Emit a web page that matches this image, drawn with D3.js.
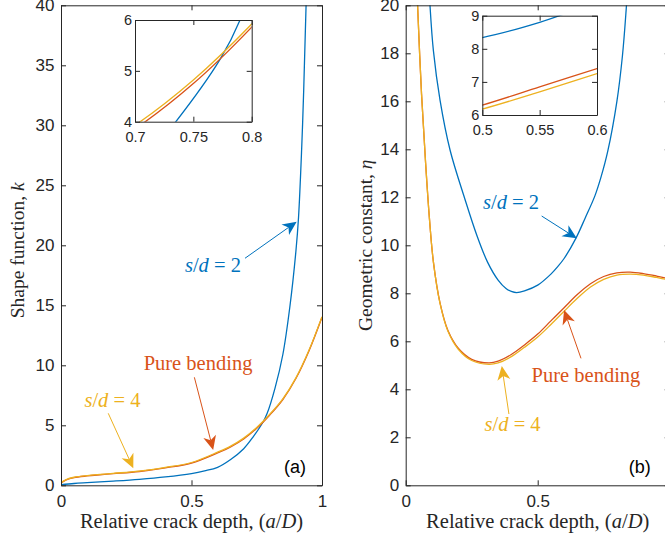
<!DOCTYPE html>
<html>
<head>
<meta charset="utf-8">
<script src="https://cdn.jsdelivr.net/npm/d3@7"></script>
<style>
  body { margin: 0; background: #fff; }
  svg { display: block; }
</style>
</head>
<body>
<svg id="chart" width="665" height="542"></svg>
<script>
// ---- Panel (a): shape function k versus relative crack depth a/D ----
const depthK2 = [0, 0.05, 0.1, 0.2, 0.3, 0.4, 0.5, 0.55, 0.6, 0.65, 0.7, 0.735, 0.773, 0.79, 0.82, 0.85, 0.877, 0.9, 0.91, 0.922, 0.93, 0.939, 0.95];
const kS2     = [0.05, 0.15, 0.22, 0.35, 0.5, 0.7, 0.98, 1.2, 1.5, 2.15, 3.05, 4.0, 5.23, 6.0, 8.1, 10.9, 14.9, 19.5, 22.3, 28, 33, 40, 50];

const depthKPB = [0, 0.02, 0.05, 0.1, 0.15, 0.2, 0.3, 0.4, 0.5, 0.6, 0.65, 0.7, 0.75, 0.8, 0.85, 0.9, 0.95, 1];
const kPB      = [0.2, 0.45, 0.64, 0.78, 0.88, 0.97, 1.15, 1.45, 1.85, 2.7, 3.2, 3.86, 4.75, 5.86, 7.15, 8.9, 11.2, 14.0];
const kS4      = [0.22, 0.48, 0.67, 0.81, 0.91, 1.0, 1.18, 1.49, 1.9, 2.76, 3.26, 3.93, 4.82, 5.92, 7.2, 8.95, 11.25, 14.05];

// ---- Panel (b): geometric constant eta versus relative crack depth a/D ----
const depthEta2 = [0.085, 0.092, 0.105, 0.13, 0.168, 0.225, 0.27, 0.31, 0.35, 0.38, 0.4, 0.42, 0.45, 0.5, 0.55, 0.575, 0.6, 0.645, 0.68, 0.717, 0.74, 0.765, 0.8, 0.821, 0.835, 0.845];
const etaS2     = [21.6, 20, 18.1, 16.05, 13.97, 11.9, 10.4, 9.3, 8.55, 8.2, 8.08, 8.03, 8.1, 8.34, 8.8, 9.1, 9.45, 10.3, 11.14, 12.07, 12.85, 13.9, 16.0, 17.9, 19.8, 21.5];

const depthEtaPB = [0.04, 0.045, 0.06, 0.075, 0.09, 0.105, 0.13, 0.16, 0.2, 0.25, 0.315, 0.35, 0.4, 0.45, 0.5, 0.55, 0.6, 0.65, 0.7, 0.75, 0.8, 0.85, 0.9, 0.95, 1];
const etaPB      = [21.5, 20, 16.3, 13.5, 11.1, 9.3, 7.6, 6.45, 5.7, 5.25, 5.1, 5.17, 5.45, 5.85, 6.3, 6.85, 7.4, 7.95, 8.4, 8.7, 8.85, 8.88, 8.82, 8.72, 8.6];
const etaS4      = [21.5, 20, 16.3, 13.5, 11.1, 9.3, 7.58, 6.42, 5.66, 5.2, 5.04, 5.1, 5.36, 5.75, 6.18, 6.7, 7.25, 7.79, 8.26, 8.58, 8.76, 8.8, 8.76, 8.66, 8.55];

// ---- Ticks ----
const depthTicks   = [0, 0.5, 1];
const kTicks       = [0, 5, 10, 15, 20, 25, 30, 35, 40];
const etaTicks     = [0, 2, 4, 6, 8, 10, 12, 14, 16, 18, 20];
const insetKX      = [0.7, 0.75, 0.8];
const insetKY      = [4, 5, 6];
const insetEtaX    = [0.5, 0.55, 0.6];
const insetEtaY    = [6, 7, 8, 9];

const COLORS = { s2: '#0072BD', pb: '#D95319', s4: '#EDB120' };
const AXIS = '#262626';
const SANS = '"Liberation Sans", Arial, Helvetica, sans-serif';
const SERIF = '"Liberation Serif", "Times New Roman", serif';

const svg = d3.select('#chart');
const defs = svg.append('defs');
const fmt = d3.format('~g');

function zip(xs, ys) { return xs.map((x, i) => [x, ys[i]]); }

function drawAxes(g, x, y, xt, yt, fs, padX, padY) {
  const w = x.range()[1], h = y.range()[0], t = 5;
  g.append('g').attr('transform', `translate(0,${h})`)
    .call(d3.axisBottom(x).tickValues(xt).tickFormat(fmt).tickSizeInner(-t).tickSizeOuter(0).tickPadding(padX));
  g.append('g')
    .call(d3.axisLeft(y).tickValues(yt).tickFormat(fmt).tickSizeInner(-t).tickSizeOuter(0).tickPadding(padY));
  g.append('g')
    .call(d3.axisTop(x).tickValues(xt).tickFormat('').tickSizeInner(-t).tickSizeOuter(0));
  g.append('g').attr('transform', `translate(${w},0)`)
    .call(d3.axisRight(y).tickValues(yt).tickFormat('').tickSizeInner(-t).tickSizeOuter(0));
  g.selectAll('.domain, .tick line').attr('stroke', AXIS).attr('stroke-width', 1);
  g.selectAll('.tick text').attr('fill', AXIS)
    .style('font-family', SANS).style('font-size', fs + 'px');
}

function drawSeries(g, x, y, series, clipId, width) {
  const line = d3.line().x(d => x(d[0])).y(d => y(d[1])).curve(d3.curveCatmullRom.alpha(0.5));
  const lg = g.append('g').attr('clip-path', `url(#${clipId})`);
  series.forEach(s => {
    lg.append('path').datum(s.data)
      .attr('fill', 'none').attr('stroke', s.color)
      .attr('stroke-width', width).attr('stroke-linejoin', 'round')
      .attr('d', line);
  });
}

function addClip(id, w, h) {
  defs.append('clipPath').attr('id', id).append('rect')
    .attr('x', 0).attr('y', 0).attr('width', w).attr('height', h);
}

// Annotation arrow with a notched head, tail and tip in data units
function arrow(g, x, y, a) {
  const x1 = x(a.from[0]), y1 = y(a.from[1]);
  const x2 = x(a.to[0]), y2 = y(a.to[1]);
  const dx = x2 - x1, dy = y2 - y1, len = Math.hypot(dx, dy);
  const ux = dx / len, uy = dy / len, nx = -uy, ny = ux;
  const L = 14, W = 6.5, notch = 4;
  const bx = x2 - L * ux, by = y2 - L * uy;
  const mx = x2 - (L - notch) * ux, my = y2 - (L - notch) * uy;
  g.append('line').attr('x1', x1).attr('y1', y1).attr('x2', mx).attr('y2', my)
    .attr('stroke', a.color).attr('stroke-width', 1);
  g.append('path')
    .attr('d', `M${x2},${y2}L${bx + W * nx},${by + W * ny}L${mx},${my}L${bx - W * nx},${by - W * ny}Z`)
    .attr('fill', a.color);
}

function mathText(g, x, y, a) {
  const t = g.append('text').attr('x', x(a.at[0])).attr('y', y(a.at[1]))
    .attr('text-anchor', 'middle').attr('fill', a.color)
    .style('font-family', SERIF).style('font-size', '20.5px');
  a.parts.forEach(p => {
    t.append('tspan').text(p[0]).style('font-style', p[1] ? 'italic' : 'normal');
  });
}

function xLabel(g, w, h) {
  const t = g.append('text').attr('x', w / 2).attr('y', h + 43)
    .attr('text-anchor', 'middle').attr('fill', AXIS)
    .style('font-family', SERIF).style('font-size', '20.5px');
  t.append('tspan').text('Relative crack depth, (');
  t.append('tspan').text('a').style('font-style', 'italic');
  t.append('tspan').text('/');
  t.append('tspan').text('D').style('font-style', 'italic');
  t.append('tspan').text(')');
}

function yLabel(g, dx, cy, text, sym) {
  const t = g.append('text').attr('transform', `translate(${dx},${cy}) rotate(-90)`)
    .attr('text-anchor', 'middle').attr('fill', AXIS)
    .style('font-family', SERIF).style('font-size', '19.5px');
  t.append('tspan').text(text);
  t.append('tspan').text(sym).style('font-style', 'italic');
}

function panel(cfg) {
  const g = svg.append('g').attr('transform', `translate(${cfg.left},${cfg.top})`);
  const x = d3.scaleLinear().domain([0, 1]).range([0, cfg.width]);
  const y = d3.scaleLinear().domain(cfg.yDomain).range([cfg.height, 0]);
  addClip(cfg.id + '-clip', cfg.width, cfg.height);
  drawSeries(g, x, y, cfg.series, cfg.id + '-clip', 1.3);
  drawAxes(g, x, y, depthTicks, cfg.yTicks, 17, 10, 6.5);
  xLabel(g, cfg.width, cfg.height);
  yLabel(g, cfg.yLabelDx, cfg.height / 2 + cfg.yLabelDy, cfg.yLabel, cfg.ySym);

  // inset zoom
  const ins = cfg.inset;
  const ig = g.append('g').attr('transform', `translate(${ins.left},${ins.top})`);
  ig.append('rect').attr('width', ins.width).attr('height', ins.height).attr('fill', '#fff');
  const ix = d3.scaleLinear().domain(ins.xDomain).range([0, ins.width]);
  const iy = d3.scaleLinear().domain(ins.yDomain).range([ins.height, 0]);
  addClip(cfg.id + '-inset-clip', ins.width, ins.height);
  drawSeries(ig, ix, iy, cfg.series, cfg.id + '-inset-clip', 1.3);
  drawAxes(ig, ix, iy, ins.xTicks, ins.yTicks, 14.5, 10, 3);

  // annotations
  cfg.notes.forEach(a => { arrow(g, x, y, a); mathText(g, x, y, a); });
  g.append('text').attr('x', cfg.width + cfg.tagDx).attr('y', cfg.height - 12)
    .attr('text-anchor', 'middle').attr('fill', '#000')
    .style('font-family', SANS).style('font-size', '18px').text(cfg.tag);
}

panel({
  id: 'pa', left: 61, top: 5.3, width: 261, height: 480,
  yDomain: [0, 40], yTicks: kTicks,
  yLabel: 'Shape function, ', ySym: 'k', yLabelDx: -37, yLabelDy: 5,
  series: [
    { color: COLORS.s2, data: zip(depthK2, kS2) },
    { color: COLORS.pb, data: zip(depthKPB, kPB) },
    { color: COLORS.s4, data: zip(depthKPB, kS4) }
  ],
  inset: { left: 74, top: 14.7, width: 116.7, height: 101.7,
           xDomain: [0.7, 0.8], yDomain: [4, 6], xTicks: insetKX, yTicks: insetKY },
  notes: [
    { color: COLORS.s2, from: [0.705, 18.92], to: [0.903, 21.97], at: [0.582, 17.78],
      parts: [['s', true], ['/', false], ['d', true], [' = 2', false]] },
    { color: COLORS.pb, from: [0.511, 9.0], to: [0.583, 2.94], at: [0.525, 9.61],
      parts: [['Pure bending', false]] },
    { color: COLORS.s4, from: [0.181, 6.0], to: [0.277, 1.42], at: [0.197, 6.55],
      parts: [['s', true], ['/', false], ['d', true], [' = 4', false]] }
  ],
  tag: '(a)', tagDx: -27
});

panel({
  id: 'pb', left: 405.7, top: 5.3, width: 264, height: 480,
  yDomain: [0, 20], yTicks: etaTicks,
  yLabel: 'Geometric constant, ', ySym: 'η', yLabelDx: -34, yLabelDy: 0,
  series: [
    { color: COLORS.s2, data: zip(depthEta2, etaS2) },
    { color: COLORS.pb, data: zip(depthEtaPB, etaPB) },
    { color: COLORS.s4, data: zip(depthEtaPB, etaS4) }
  ],
  inset: { left: 76.6, top: 10.4, width: 114.7, height: 99.3,
           xDomain: [0.5, 0.6], yDomain: [6, 9], xTicks: insetEtaX, yTicks: insetEtaY },
  notes: [
    { color: COLORS.s2, from: [0.515, 11.22], to: [0.648, 10.29], at: [0.399, 11.51],
      parts: [['s', true], ['/', false], ['d', true], [' = 2', false]] },
    { color: COLORS.pb, from: [0.664, 5.29], to: [0.6, 7.3], at: [0.683, 4.32],
      parts: [['Pure bending', false]] },
    { color: COLORS.s4, from: [0.391, 2.97], to: [0.364, 4.97], at: [0.405, 2.275],
      parts: [['s', true], ['/', false], ['d', true], [' = 4', false]] }
  ],
  tag: '(b)', tagDx: -30
});
</script>
</body>
</html>
